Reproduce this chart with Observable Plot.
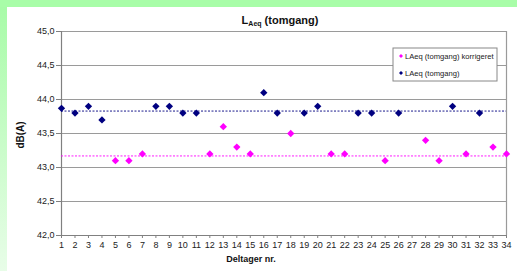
<!DOCTYPE html>
<html>
<head>
<meta charset="utf-8">
<script src="https://cdn.jsdelivr.net/npm/d3@7"></script>
<script src="https://cdn.jsdelivr.net/npm/@observablehq/plot@0.6"></script>
<style>
  html, body { margin: 0; padding: 0; background: #fff; }
  #wrap { position: relative; width: 517px; height: 271px; overflow: hidden;
          background: linear-gradient(to bottom, #a6fba6, #e8fde8); font-family: "Liberation Sans", Arial, sans-serif; }
  #topband { position: absolute; left: 0; top: 0; width: 517px; height: 7px; background: #a8fda8; }
  #chart { position: absolute; left: 7px; top: 7px; width: 510px; height: 264px; background: #fff; }
  #chart svg { display: block; background: #fff; }
</style>
</head>
<body>
<div id="wrap"><div id="topband"></div><div id="chart"></div></div>
<script>
const participants = [1,2,3,4,5,6,7,8,9,10,11,12,13,14,15,16,17,18,19,20,21,22,23,24,25,26,27,28,29,30,31,32,33,34];
const laeq = [43.87,43.8,43.9,43.7,null,null,null,43.9,43.9,43.8,43.8,null,null,null,null,44.1,43.8,null,43.8,43.9,null,null,43.8,43.8,null,43.8,null,null,null,43.9,null,43.8,null,null];
const laeqKorr = [null,null,null,null,43.1,43.1,43.2,null,null,null,null,43.2,43.6,43.3,43.2,null,null,43.5,null,null,43.2,43.2,null,null,43.1,null,null,43.4,43.1,null,43.2,null,43.3,43.2];
const laeqMean = 43.83;
const laeqKorrMean = 43.17;
const yTicks = [42.0,42.5,43.0,43.5,44.0,44.5,45.0];
const seriesNames = ["LAeq (tomgang) korrigeret", "LAeq (tomgang)"];
const seriesColors = ["#ff00ff", "#000080"];

const blueData = participants.map((p,i)=>({p, v: laeq[i]})).filter(d=>d.v!=null);
const pinkData = participants.map((p,i)=>({p, v: laeqKorr[i]})).filter(d=>d.v!=null);

const fmt = d => d.toFixed(1).replace(".", ",");

const chart = Plot.plot({
  width: 510, height: 264,
  marginLeft: 54, marginTop: 24, marginRight: 11, marginBottom: 36,
  style: {fontFamily: "'Liberation Sans', Arial, sans-serif", fontSize: "9px", color: "#222", background: "#fff"},
  x: {domain: [1, 34]},
  y: {domain: [42, 45]},
  marks: [
    Plot.ruleY(yTicks.slice(1), {stroke: "#9a9a9a", strokeWidth: 1.2}),
    Plot.ruleX([34], {stroke: "#9a9a9a", strokeWidth: 1.2}),
    Plot.ruleY([42], {stroke: "#808080", strokeWidth: 1.2}),
    Plot.ruleX([1], {stroke: "#808080", strokeWidth: 1.2}),
    Plot.axisX(participants, {tickSize: 3, tickPadding: 3, label: null, stroke: "#808080", fill: "#222"}),
    Plot.axisY(yTicks, {tickSize: 5, tickPadding: 2, tickFormat: fmt, label: null, stroke: "#808080", fill: "#222"}),
    Plot.ruleY([laeqMean], {stroke: seriesColors[1], strokeWidth: 0.9, strokeDasharray: "2,1.5"}),
    Plot.ruleY([laeqKorrMean], {stroke: seriesColors[0], strokeWidth: 0.9, strokeDasharray: "2,1.5"}),
    Plot.dot(blueData, {x: "p", y: "v", symbol: "diamond2", r: 3.3, fill: seriesColors[1], stroke: "none"}),
    Plot.dot(pinkData, {x: "p", y: "v", symbol: "diamond2", r: 3.3, fill: seriesColors[0], stroke: "none"})
  ]
});
document.getElementById("chart").appendChild(chart);

const svg = d3.select(chart);
const ff = "'Liberation Sans', Arial, sans-serif";
// Title
const t = svg.append("text").attr("x", 273).attr("y", 17).attr("text-anchor", "middle")
  .attr("font-family", ff).attr("font-weight", "bold").attr("font-size", 11).attr("fill", "#111");
t.append("tspan").text("L");
t.append("tspan").attr("font-size", 7).attr("dy", 2).text("Aeq");
t.append("tspan").attr("dy", -2).text(" (tomgang)");
// Y label
svg.append("text").attr("transform", "translate(17,128) rotate(-90)").attr("text-anchor", "middle")
  .attr("font-family", ff).attr("font-weight", "bold").attr("font-size", 10).attr("fill", "#111").text("dB(A)");
// X label
svg.append("text").attr("x", 244).attr("y", 255).attr("text-anchor", "middle")
  .attr("font-family", ff).attr("font-weight", "bold").attr("font-size", 9).attr("fill", "#111").text("Deltager nr.");
// Legend
const lg = svg.append("g").attr("transform", "translate(386,41)");
lg.append("rect").attr("x", 0).attr("y", 0).attr("width", 104).attr("height", 33)
  .attr("fill", "#fff").attr("stroke", "#888").attr("stroke-width", 1);
seriesNames.forEach((name, i) => {
  const yy = 8 + i * 17;
  lg.append("path").attr("d", d3.symbol(d3.symbolDiamond2, 10)()).attr("transform", `translate(8,${yy})`)
    .attr("fill", seriesColors[i]);
  lg.append("text").attr("x", 12).attr("y", yy + 3).attr("text-anchor", "start").attr("font-family", ff).attr("font-size", 7.6)
    .attr("fill", "#222").text(name);
});
</script>
</body>
</html>
